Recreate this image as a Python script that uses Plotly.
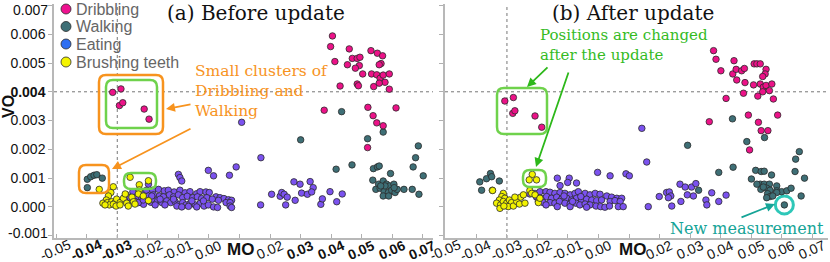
import plotly.graph_objects as go

# ---------------- DATA (MO on x, VO on y) ----------------
mo_ticks = [-0.05, -0.04, -0.03, -0.02, -0.01, 0.00, 0.01, 0.02, 0.03, 0.04, 0.05, 0.06, 0.07]
mo_ticktext_before = ["-0.05", "<b>-0.04</b>", "<b>-0.03</b>", "-0.02", "-0.01", "0.00", "", "0.02",
                      "<b>0.03</b>", "<b>0.04</b>", "<b>0.05</b>", "<b>0.06</b>", "<b>0.07</b>"]
mo_ticktext_after = ["-0.05", "-0.04", "-0.03", "-0.02", "-0.01", "0.00", "", "0.02",
                     "0.03", "0.04", "0.05", "0.06", "0.07"]
vo_ticks = [-0.001, 0.000, 0.001, 0.002, 0.003, 0.004, 0.005, 0.006, 0.007]
vo_ticktext = ["-0.001", "0.000", "0.001", "0.002", "0.003", "<b>0.004</b>", "0.005", "0.006", "0.007"]

categories = ["Dribbling", "Walking", "Eating", "Brushing teeth"]
legend_colors = ["#ee1290", "#3e6f76", "#2f6ff2", "#f4f400"]

# (a) Before update
dribbling_before_mo = [-0.0315, -0.0288, -0.0293, -0.0282, -0.0212, -0.0196,
                       0.0404, 0.0398, 0.0459, 0.0530, 0.0551, 0.0568, 0.0412, 0.0469, 0.0485, 0.0494,
                       0.0453, 0.0492, 0.0479, 0.0503, 0.0532, 0.0549, 0.0560, 0.0570, 0.0590, 0.0563,
                       0.0557, 0.0429, 0.0485, 0.0489, 0.0539, 0.0576, 0.0557, 0.0590, 0.0377, 0.0520,
                       0.0537, 0.0549, 0.0570, 0.0612, 0.0519]
dribbling_before_vo = [0.00398, 0.00410, 0.00352, 0.00362, 0.00340, 0.00305,
                       0.00594, 0.00557, 0.00549, 0.00543, 0.00534, 0.00525, 0.00505, 0.00516, 0.00516, 0.00520,
                       0.00494, 0.00491, 0.00482, 0.00462, 0.00462, 0.00459, 0.00447, 0.00458, 0.00462, 0.00498,
                       0.00494, 0.00420, 0.00427, 0.00421, 0.00418, 0.00433, 0.00430, 0.00409, 0.00336, 0.00346,
                       0.00317, 0.00292, 0.00282, 0.00344, 0.00206]

walking_before_mo = [-0.0398, -0.0387, -0.0376, -0.0367, -0.0349, -0.0398, 0.0434,
                     0.0300, 0.0519, 0.0570, 0.0685, 0.0676, 0.0668, 0.0701, 0.0468, 0.0416, 0.0538,
                     0.0551, 0.0557, 0.0536, 0.0594,
                     0.0555, 0.0570, 0.0581, 0.0592, 0.0605, 0.0546, 0.0560, 0.0573, 0.0587, 0.0570,
                     0.0588, 0.0598, 0.0609, 0.0616, 0.0638, 0.0665, 0.0687, 0.0576, 0.0562, 0.0606]
walking_before_vo = [0.00096, 0.00105, 0.00110, 0.00112, 0.00100, 0.00067, 0.00331,
                     0.00233, 0.00237, 0.00260, 0.00212, 0.00171, 0.00139, 0.00108, 0.00146, 0.00131, 0.00133,
                     0.00139, 0.00142, 0.00093, 0.00116,
                     0.00079, 0.00090, 0.00079, 0.00073, 0.00079, 0.00061, 0.00065, 0.00053, 0.00050, 0.00038,
                     0.00038, 0.00058, 0.00050, 0.00061, 0.00061, 0.00061, 0.00044, 0.00073, 0.00073, 0.00067]

brushing_before_mo = [-0.0359, -0.0258, -0.0228, -0.0198,
                      -0.0313, -0.0321, -0.0329, -0.0336, -0.0347, -0.0332, -0.0318, -0.0307, -0.0302,
                      -0.0326, -0.0313, -0.0291, -0.0280, -0.0269, -0.0252, -0.0247, -0.0274, -0.0228,
                      -0.0231, -0.0215, -0.0198, -0.0340, -0.0304, -0.0291, -0.0264, -0.0242]
brushing_before_vo = [0.00061, 0.00103, 0.00077, 0.00091,
                      0.00070, 0.00050, 0.00038, 0.00024, 0.00013, 0.00015, 0.00018, 0.00015, 0.00027,
                      0.00007, 0.00009, 0.00015, 0.00030, 0.00013, 0.00034, 0.00018, 0.00045, 0.00059,
                      0.00045, 0.00038, 0.00022, 0.00007, 0.00003, 0.00007, 0.00003, 0.00010]

eating_before_mo = [-0.0271, -0.0249, -0.0225, -0.0204, -0.0184, -0.0165, -0.0146, -0.0133, -0.0114, -0.0095,
                    -0.0078, -0.0062, -0.0040, -0.0029, -0.0010, 0.0001, 0.0023, 0.0036, 0.0049, 0.0064, 0.0074,
                    -0.0258, -0.0236, -0.0220, -0.0198, -0.0182, -0.0162, -0.0149, -0.0129, -0.0116, -0.0100,
                    -0.0086, -0.0071, -0.0053, -0.0038, -0.0024, -0.0007, 0.0011, 0.0031, 0.0056, 0.0069,
                    -0.0242, -0.0225, -0.0206, -0.0190, -0.0171, -0.0154, -0.0138, -0.0125, -0.0111, -0.0097,
                    -0.0086, -0.0075, -0.0062, -0.0045, -0.0029, -0.0016, -0.0002, 0.0015, 0.0028, 0.0069, 0.0074,
                    -0.0214, -0.0176, -0.0144, -0.0105, -0.0089, -0.0067, -0.0040, -0.0018, -0.0056, -0.0116,
                    -0.0160, -0.0187,
                    -0.0100, -0.0095, -0.0089, -0.0002, 0.0015, 0.0067, 0.0089, 0.0170, 0.0169, -0.0198,
                    0.0107, -0.0231, -0.0215, -0.0187,
                    0.0205, 0.0233, 0.0238, 0.0246, 0.0256, 0.0251, 0.0282, 0.0278, 0.0298, 0.0303,
                    0.0322, 0.0331, 0.0341, 0.0336, 0.0366, 0.0371, 0.0396, 0.0418, 0.0436]
eating_before_vo = [0.00042, 0.00053, 0.00049, 0.00058, 0.00058, 0.00061, 0.00056, 0.00058, 0.00052, 0.00058,
                    0.00049, 0.00053, 0.00046, 0.00053, 0.00052, 0.00050, 0.00035, 0.00032, 0.00029, 0.00025, 0.00023,
                    0.00032, 0.00035, 0.00029, 0.00038, 0.00042, 0.00038, 0.00035, 0.00042, 0.00035, 0.00042,
                    0.00032, 0.00037, 0.00032, 0.00035, 0.00029, 0.00032, 0.00027, 0.00023, 0.00015, 0.00015,
                    0.00019, 0.00016, 0.00021, 0.00016, 0.00021, 0.00015, 0.00021, 0.00015, 0.00019, 0.00009,
                    0.00015, 0.00007, 0.00012, 0.00007, 0.00012, 0.00003, 0.00007, 0.00000, -0.00002, 0.00003, -0.00002,
                    0.00009, 0.00007, 0.00007, 0.00003, 0.00000, 0.00002, 0.00000, 0.00021, 0.00021, 0.00027,
                    0.00027, 0.00027,
                    0.00113, 0.00102, 0.00090, 0.00127, 0.00108, 0.00110, 0.00139, 0.00171, 0.00007, 0.00079,
                    0.00294, 0.00015, 0.00024, 0.00038,
                    0.00044, 0.00037, 0.00050, 0.00044, 0.00034, 0.00007, 0.00023, 0.00087, 0.00079, 0.00048,
                    0.00044, 0.00088, 0.00067, 0.00052, 0.00009, 0.00028, 0.00053, 0.00018, 0.00045]

# (b) After update
dribbling_after_mo = [-0.0307, -0.0279, -0.0281, -0.0274, -0.0208, -0.0186,
                      0.0377, 0.0385, 0.0401, 0.0444, 0.0440, 0.0451, 0.0453, 0.0469, 0.0478, 0.0480,
                      0.0510, 0.0519, 0.0530, 0.0549, 0.0546, 0.0538, 0.0530, 0.0508, 0.0540, 0.0549,
                      0.0568, 0.0560, 0.0538, 0.0573, 0.0522, 0.0475, 0.0418, 0.0363, 0.0491, 0.0524,
                      0.0587, 0.0533, 0.0555, 0.0495]
dribbling_after_vo = [0.00368, 0.00380, 0.00325, 0.00334, 0.00316, 0.00277,
                      0.00543, 0.00513, 0.00473, 0.00508, 0.00462, 0.00478, 0.00441, 0.00473, 0.00481, 0.00432,
                      0.00497, 0.00497, 0.00497, 0.00478, 0.00462, 0.00453, 0.00427, 0.00424, 0.00416, 0.00422,
                      0.00427, 0.00404, 0.00400, 0.00375, 0.00385, 0.00395, 0.00377, 0.00296, 0.00319, 0.00294,
                      0.00319, 0.00265, 0.00265, 0.00198]

walking_after_mo = [-0.0389, -0.0367, -0.0354, -0.0350, -0.0325, -0.0383, 0.0439,
                    0.0292, 0.0486, 0.0544, 0.0658, 0.0646, 0.0644, 0.0675, 0.0441, 0.0394, 0.0515,
                    0.0533, 0.0543, 0.0501, 0.0567, 0.0328, 0.0664,
                    0.0530, 0.0543, 0.0560, 0.0584, 0.0532, 0.0551, 0.0562, 0.0584, 0.0600, 0.0617,
                    0.0631, 0.0554, 0.0562, 0.0584, 0.0551, 0.0571, 0.0519, 0.0540]
walking_after_vo = [0.00087, 0.00098, 0.00116, 0.00105, 0.00090, 0.00058, 0.00306,
                    0.00214, 0.00227, 0.00241, 0.00192, 0.00166, 0.00123, 0.00100, 0.00138, 0.00120, 0.00127,
                    0.00123, 0.00124, 0.00097, 0.00111, 0.00058, 0.00038,
                    0.00079, 0.00079, 0.00079, 0.00073, 0.00061, 0.00065, 0.00058, 0.00056, 0.00053, 0.00056,
                    0.00065, 0.00046, 0.00036, 0.00050, 0.00032, 0.00038, 0.00079, 0.00069]

new_measurement_mo = [0.0609]
new_measurement_vo = [0.00007]

brushing_after_mo = [-0.0348, -0.0217, -0.0227, -0.0203,
                     -0.0347, -0.0312, -0.0317, -0.0307, -0.0325, -0.0334, -0.0321, -0.0312, -0.0301,
                     -0.0292, -0.0285, -0.0296, -0.0279, -0.0268, -0.0259, -0.0255, -0.0241, -0.0225,
                     -0.0219, -0.0208, -0.0197, -0.0192, -0.0323, -0.0310, -0.0274, -0.0246]
brushing_after_vo = [0.00058, 0.00113, 0.00094, 0.00094,
                     0.00057, 0.00047, 0.00036, 0.00030, 0.00024, 0.00013, 0.00007, 0.00019, 0.00013,
                     0.00024, 0.00015, 0.00001, 0.00003, 0.00019, 0.00010, 0.00034, 0.00013, 0.00057,
                     0.00047, 0.00042, 0.00015, 0.00030, -0.00005, 0.00003, 0.00034, 0.00042]

eating_after_mo = [-0.0135, -0.0096, -0.0072, -0.0126, -0.0101, -0.0003, 0.0038, 0.0090, 0.0101,
                   -0.0225, -0.0208, -0.0192, -0.0172, -0.0159, -0.0143, -0.0126, -0.0110, -0.0093, -0.0077,
                   -0.0066, -0.0044, -0.0028, -0.0011, 0.0005, 0.0027, 0.0043, 0.0060, 0.0076,
                   -0.0203, -0.0186, -0.0170, -0.0154, -0.0137, -0.0121, -0.0104, -0.0088, -0.0072, -0.0055,
                   -0.0039, -0.0022, -0.0006, 0.0010, 0.0038, 0.0054, 0.0071,
                   -0.0197, -0.0181, -0.0159, -0.0143, -0.0128, -0.0110, -0.0093, -0.0074, -0.0061, -0.0044,
                   -0.0028, -0.0008, 0.0007, 0.0021, 0.0065, 0.0081,
                   -0.0172, -0.0135, -0.0093, -0.0039, 0.0036, -0.0085, -0.0058, -0.0113,
                   0.0142, 0.0158, 0.0163, 0.0199, 0.0223, 0.0232, 0.0237, 0.0229, 0.0240, 0.0267,
                   0.0270, 0.0284, 0.0291, 0.0305, 0.0311, 0.0319, 0.0371, 0.0352, 0.0355, 0.0394, 0.0418]
eating_after_vo = [0.00100, 0.00100, 0.00083, 0.00074, 0.00085, 0.00120, 0.00108, 0.00115, 0.00108,
                   0.00045, 0.00047, 0.00053, 0.00053, 0.00051, 0.00047, 0.00050, 0.00047, 0.00042, 0.00047,
                   0.00053, 0.00047, 0.00042, 0.00047, 0.00044, 0.00038, 0.00034, 0.00030, 0.00030,
                   0.00034, 0.00030, 0.00036, 0.00030, 0.00034, 0.00027, 0.00030, 0.00024, 0.00030, 0.00024,
                   0.00027, 0.00024, 0.00022, 0.00024, 0.00019, 0.00022, 0.00019,
                   0.00019, 0.00015, 0.00015, 0.00013, 0.00019, 0.00013, 0.00010, 0.00013, 0.00007, 0.00010,
                   0.00007, 0.00003, 0.00001, -0.00001, 0.00001, 0.00001,
                   0.00007, 0.00001, 0.00001, -0.00001, 0.00003, 0.00019, 0.00036, 0.00038,
                   0.00273, 0.00156, 0.00001, 0.00036, 0.00050, 0.00052, 0.00038, 0.00032, 0.00003, 0.00079,
                   0.00019, 0.00069, 0.00042, 0.00069, 0.00038, 0.00081, 0.00049, 0.00024, 0.00007, 0.00019, 0.00041]

# ---------------- STYLE ----------------
W, H = 830, 262
MT, MB = 4, 24
PH = H - MT - MB
C_DRIB, C_WALK, C_EAT, C_BRUSH = "#ec1288", "#3e6f76", "#7b52ef", "#f2f200"
OUTLINE = "#2b2b2b"
ORANGE = "#f7931e"
GREEN_BOX = "#6fd24c"
GREEN_TXT = "#35bb1f"
TEAL = "#2ec7b8"
TEAL_TXT = "#16a497"
SERIF = "DejaVu Serif"
SANS = "Liberation Sans, Arial, sans-serif"


def pxx(x):
    return x / W


def pxy(y):
    return 1 - (y - MT) / PH


def rrect(x0, y0, x1, y1, r):
    pts = [("M", x0 + r, y0), ("L", x1 - r, y0), ("Q", x1, y0, x1, y0 + r), ("L", x1, y1 - r),
           ("Q", x1, y1, x1 - r, y1), ("L", x0 + r, y1), ("Q", x0, y1, x0, y1 - r), ("L", x0, y0 + r),
           ("Q", x0, y0, x0 + r, y0)]
    s = ""
    for p in pts:
        cmd, vals = p[0], p[1:]
        coords = []
        for i in range(0, len(vals), 2):
            coords.append(f"{pxx(vals[i]):.5f},{pxy(vals[i + 1]):.5f}")
        s += cmd + " " + " ".join(coords) + " "
    return s + "Z"


fig = go.Figure()


def add_scatter(xs, ys, color, xa, ya, name):
    fig.add_trace(go.Scatter(x=xs, y=ys, mode="markers", name=name, showlegend=False,
                             xaxis=xa, yaxis=ya, cliponaxis=False,
                             marker=dict(size=6.5, color=color, line=dict(color=OUTLINE, width=0.8))))


add_scatter(eating_before_mo, eating_before_vo, C_EAT, "x", "y", "Eating")
add_scatter(brushing_before_mo, brushing_before_vo, C_BRUSH, "x", "y", "Brushing teeth")
add_scatter(walking_before_mo, walking_before_vo, C_WALK, "x", "y", "Walking")
add_scatter(dribbling_before_mo, dribbling_before_vo, C_DRIB, "x", "y", "Dribbling")

add_scatter(eating_after_mo, eating_after_vo, C_EAT, "x2", "y2", "Eating")
add_scatter(brushing_after_mo, brushing_after_vo, C_BRUSH, "x2", "y2", "Brushing teeth")
add_scatter(walking_after_mo, walking_after_vo, C_WALK, "x2", "y2", "Walking")
add_scatter(dribbling_after_mo, dribbling_after_vo, C_DRIB, "x2", "y2", "Dribbling")
add_scatter(new_measurement_mo, new_measurement_vo, C_WALK, "x2", "y2", "New measurement")

axis_common = dict(showgrid=False, zeroline=False, showline=True, linecolor="#b8b8b8", linewidth=1.5,
                   tickcolor="#b0b0b0", ticklen=4, tickwidth=1, automargin=False)
xfont = dict(family=SANS, size=14, color="#111")
yfont = dict(family=SANS, size=14, color="#111")

x_range_a = [-0.0507, 0.0733]
x_range_b = [-0.0503, 0.0752]
y_range = [-0.00108, 0.00705]

# edge labels of VO are drawn nudged inward (as in the reference), so hide them on the axis
vo_ticktext_axis = ["" if v in (vo_ticks[0], vo_ticks[-1]) else t for v, t in zip(vo_ticks, vo_ticktext)]

# MO tick labels are drawn as rotated annotations centred under each tick (see below)
xcommon = dict(tickmode="array", tickvals=mo_ticks, ticks="inside", showticklabels=False)

fig.update_layout(
    width=W, height=H, template="none",
    paper_bgcolor="white", plot_bgcolor="white",
    margin=dict(l=0, r=0, t=MT, b=MB),
    showlegend=False,
    xaxis=dict(domain=[54 / W, 433 / W], range=x_range_a, anchor="y", **xcommon, **axis_common),
    yaxis=dict(domain=[0, 1], range=y_range, anchor="x", tickmode="array", tickvals=vo_ticks,
               ticktext=vo_ticktext_axis, ticks="outside", tickfont=yfont, **axis_common),
    xaxis2=dict(domain=[445 / W, 828 / W], range=x_range_b, anchor="y2", **xcommon, **axis_common),
    yaxis2=dict(domain=[0, 1], range=y_range, anchor="x2", tickmode="array", tickvals=vo_ticks,
                showticklabels=False, ticks="outside", **axis_common),
)

shapes = []
# dotted reference lines
for xr, yr in (("x", "y"), ("x2", "y2")):
    shapes.append(dict(type="line", xref=xr, yref=yr + " domain", x0=-0.03, x1=-0.03, y0=0, y1=1,
                       line=dict(color="#777", width=1, dash="dot"), layer="below"))
    shapes.append(dict(type="line", xref=xr + " domain", yref=yr, x0=0, x1=1, y0=0.004, y1=0.004,
                       line=dict(color="#777", width=1, dash="dot"), layer="below"))

# highlight boxes
for (x0, y0, x1, y1, col) in [(99, 75, 163, 134, ORANGE), (79, 165, 109, 193, ORANGE),
                              (106, 80, 157, 128, GREEN_BOX), (124, 173, 156, 189, GREEN_BOX),
                              (497, 88, 547, 134, GREEN_BOX), (523, 170, 546, 187, GREEN_BOX)]:
    shapes.append(dict(type="path", xref="paper", yref="paper", path=rrect(x0, y0, x1, y1, 7),
                       line=dict(color=col, width=2.5), fillcolor="rgba(0,0,0,0)"))

# new measurement ring
shapes.append(dict(type="circle", xref="x2", yref="y2", xsizemode="pixel", ysizemode="pixel",
                   xanchor=new_measurement_mo[0], yanchor=new_measurement_vo[0],
                   x0=-9, x1=9, y0=-9, y1=9, line=dict(color=TEAL, width=3), fillcolor="white",
                   layer="below"))

# legend markers
leg_y = [9, 26.5, 44, 62]
for cy, col in zip(leg_y, legend_colors):
    shapes.append(dict(type="circle", xref="paper", yref="paper", xsizemode="pixel", ysizemode="pixel",
                       xanchor=pxx(66), yanchor=pxy(cy), x0=-5, x1=5, y0=-5, y1=5,
                       line=dict(color=OUTLINE, width=0.8), fillcolor=col))
fig.update_layout(shapes=shapes)

ann = []
for cy, name in zip(leg_y, categories):
    ann.append(dict(x=pxx(74), y=pxy(cy), xref="paper", yref="paper", text=name, showarrow=False,
                    xanchor="left", yanchor="middle", font=dict(family=SANS, size=16, color="#666")))

# nudged edge tick labels of VO
for txt, cy in ((vo_ticktext[-1], 10), (vo_ticktext[0], 233)):
    ann.append(dict(x=pxx(50), y=pxy(cy), xref="paper", yref="paper", text=txt, showarrow=False,
                    xanchor="right", yanchor="middle", font=yfont))

# rotated MO tick labels, centred below each tick
for xr, texts in (("x", mo_ticktext_before), ("x2", mo_ticktext_after)):
    for v, t in zip(mo_ticks, texts):
        if not t:
            continue
        ann.append(dict(x=v, y=pxy(249.5), xref=xr, yref="paper", text=t, showarrow=False,
                        textangle=-24, xanchor="center", yanchor="middle", xshift=-1, font=xfont))

ann.append(dict(x=pxx(256), y=pxy(13), xref="paper", yref="paper", text="(a) Before update",
                showarrow=False, xanchor="center", yanchor="middle",
                font=dict(family=SERIF, size=20, color="#111")))
ann.append(dict(x=pxx(633), y=pxy(13), xref="paper", yref="paper", text="(b) After update",
                showarrow=False, xanchor="center", yanchor="middle",
                font=dict(family=SERIF, size=20, color="#111")))

# axis titles
ann.append(dict(x=pxx(8), y=pxy(107), xref="paper", yref="paper", text="<b>VO</b>", textangle=-90,
                showarrow=False, xanchor="center", yanchor="middle",
                font=dict(family=SANS, size=16, color="#111")))
for cx, cy in ((240, 249.5), (632, 249)):
    ann.append(dict(x=pxx(cx), y=pxy(cy), xref="paper", yref="paper", text="<b>MO</b>",
                    showarrow=False, xanchor="center", yanchor="middle",
                    font=dict(family=SANS, size=17, color="#111")))

# callout texts
ann.append(dict(x=pxx(193), y=pxy(91), xref="paper", yref="paper",
                text="Small clusters of<br>Dribbling and<br>Walking", showarrow=False,
                xanchor="left", yanchor="middle", align="left",
                font=dict(family=SERIF, size=15.5, color=ORANGE)))
ann.append(dict(x=pxx(538), y=pxy(45), xref="paper", yref="paper",
                text="Positions are changed<br>after the update", showarrow=False,
                xanchor="left", yanchor="middle", align="left",
                font=dict(family=SERIF, size=15, color=GREEN_TXT)))
ann.append(dict(x=pxx(747), y=pxy(228), xref="paper", yref="paper",
                text="New measurement", showarrow=False,
                xanchor="center", yanchor="middle",
                font=dict(family=SERIF, size=16, color=TEAL_TXT)))

# arrows (head -> tail offsets in px)
for (hx, hy, tx, ty, col) in [(166, 109, 192, 104, ORANGE), (112, 169, 192, 128, ORANGE),
                              (527, 87, 549, 66, "#2db81a"), (536, 167, 569, 71, "#2db81a"),
                              (775, 204, 740, 218, TEAL_TXT)]:
    ann.append(dict(x=pxx(hx), y=pxy(hy), xref="paper", yref="paper", text="", showarrow=True,
                    ax=tx - hx, ay=ty - hy, axref="pixel", ayref="pixel",
                    arrowhead=2, arrowsize=1, arrowwidth=1.8, arrowcolor=col, standoff=0))

fig.update_layout(annotations=ann)

fig.write_html("out.html", config={"displayModeBar": False},
               post_script="document.body.style.margin='0';document.body.style.padding='0';"
                           "document.body.style.overflow='hidden';")
